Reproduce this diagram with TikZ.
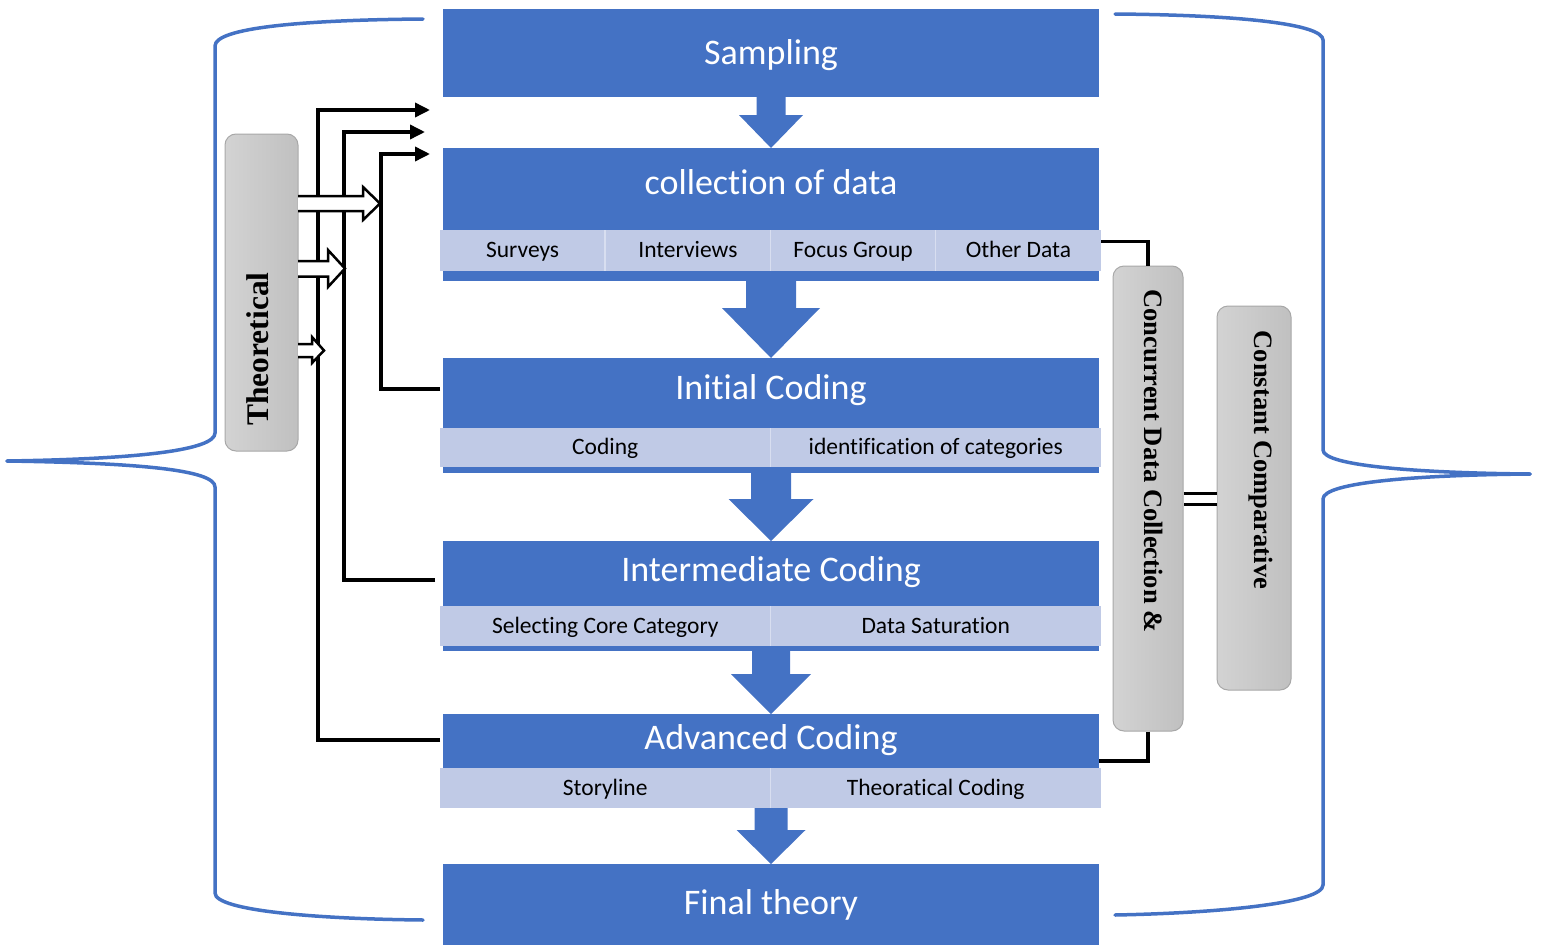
\documentclass[tikz,border=0pt]{standalone}
\usepackage{fontspec}
\setmainfont{Carlito}[Ligatures=NoCommon]
\newfontfamily\sidefont{Liberation Serif}
\usetikzlibrary{calc,arrows.meta}

\definecolor{flowblue}{HTML}{4472C4}
\definecolor{rowblue}{HTML}{C0CAE6}
\definecolor{rowline}{HTML}{D8DEF0}
\definecolor{panelL}{HTML}{D3D3D3}
\definecolor{panelR}{HTML}{C0C0C0}
\definecolor{panelEdge}{HTML}{A8A8A8}

\tikzset{
  stagebg/.style={fill=flowblue, draw=none, minimum width=656pt, anchor=north,
    inner sep=0pt, outer sep=0pt},
  title/.style={text=white, minimum width=656pt, inner sep=0pt, outer sep=0pt,
    font=\fontsize{36}{40}\selectfont, text height=22pt, text depth=0pt},
  cell/.style={fill=rowblue, draw=none, inner sep=0pt, outer sep=0pt,
    font=\fontsize{23.5}{26}\selectfont, text height=14.6pt, text depth=0pt},
  divider/.style={draw=rowline, line width=1.5pt},
  panel/.style={rounded corners=11pt, draw=panelEdge, line width=1pt,
    left color=panelL, right color=panelR, inner sep=0pt},
  paneltext/.style={font=\sidefont\bfseries\fontsize{26.5}{30}\selectfont, inner sep=0pt},
  feed/.style={draw=black, line width=3.5pt, -{Triangle[length=15pt,width=14pt]}},
  link/.style={draw=black, line width=3.5pt},
  hollow/.style={fill=white, draw=black, line width=2.5pt, line join=miter},
  brace/.style={draw=flowblue, line width=3.5pt, line cap=round},
}

% solid block arrow from the bottom of one stage to the top of the next
\newcommand\blockdown[5]{%
  \fill[flowblue] let \p1=(#1.south), \p2=(#2.north) in
    (\x1-#3pt,\y1) -- (\x1+#3pt,\y1) -- (\x1+#3pt,\y2+#5pt) -- (\x1+#4pt,\y2+#5pt)
    -- (\x1,\y2) -- (\x1-#4pt,\y2+#5pt) -- (\x1-#3pt,\y2+#5pt) -- cycle;}

\begin{document}
\begin{tikzpicture}[x=1pt,y=-1pt]
\useasboundingbox (0,0) rectangle (1543,945);

% ---- outer braces ----
\draw[brace] (423,19) .. controls (300,20) and (215,28) .. (215,46) -- (215,433)
  .. controls (215,450) and (140,459) .. (7,461);
\draw[brace] (7,461) .. controls (140,463) and (215,470) .. (215,487) -- (215,893)
  .. controls (215,911) and (320,919) .. (423,920);
\draw[brace] (1115,14) .. controls (1240,15) and (1323,24) .. (1323,40) -- (1323,450)
  .. controls (1323,466) and (1420,473) .. (1530,474);
\draw[brace] (1530,474) .. controls (1420,475) and (1323,482) .. (1323,499) -- (1323,885)
  .. controls (1323,903) and (1220,913) .. (1115,915);

% ---- stage backgrounds ----
\node[stagebg, minimum height=88pt]  (sampbox)  at (771,9)   {};
\node[stagebg, minimum height=133pt] (collbox)  at (771,148) {};
\node[stagebg, minimum height=115pt] (initbox)  at (771,358) {};
\node[stagebg, minimum height=110pt] (interbox) at (771,541) {};
\node[stagebg, minimum height=94pt]  (advbox)   at (771,714) {};
\node[stagebg, minimum height=81pt]  (finalbox) at (771,864) {};

% ---- stage titles ----
\node[title] (samp)  at (771,53)  {Sampling};
\node[title] (coll)  at (771,183) {collection of data};
\node[title] (init)  at (771,388) {Initial Coding};
\node[title] (inter) at (771,570) {Intermediate Coding};
\node[title] (adv)   at (771,738) {Advanced Coding};
\node[title] (final) at (771,903) {Final theory};

% ---- sub rows ----
\node[cell, minimum width=165.25pt, minimum height=41pt] (surveys)    at (522.6,250.5)  {Surveys};
\node[cell, minimum width=165.25pt, minimum height=41pt] (interviews) at (687.9,250.5)  {Interviews};
\node[cell, minimum width=165.25pt, minimum height=41pt] (focus)      at (853.1,250.5)  {Focus Group};
\node[cell, minimum width=165.25pt, minimum height=41pt] (other)      at (1018.4,250.5) {Other Data};
\draw[divider] (surveys.north east) -- (surveys.south east);
\draw[divider] (interviews.north east) -- (interviews.south east);
\draw[divider] (focus.north east) -- (focus.south east);

\node[cell, minimum width=330.5pt, minimum height=39pt] (coding)   at (605.25,447.5) {Coding};
\node[cell, minimum width=330.5pt, minimum height=39pt] (identcat) at (935.75,447.5) {identification of categories};
\draw[divider] (coding.north east) -- (coding.south east);

\node[cell, minimum width=330.5pt, minimum height=40pt] (corecat) at (605.25,626) {Selecting Core Category};
\node[cell, minimum width=330.5pt, minimum height=40pt] (satur)   at (935.75,626) {Data Saturation};
\draw[divider] (corecat.north east) -- (corecat.south east);

\node[cell, minimum width=330.5pt, minimum height=40pt] (story)   at (605.25,788) {Storyline};
\node[cell, minimum width=330.5pt, minimum height=40pt] (theocod) at (935.75,788) {Theoratical Coding};
\draw[divider] (story.north east) -- (story.south east);

% ---- flow arrows ----
\blockdown{sampbox}{collbox}{14.5}{32}{33}
\blockdown{collbox}{initbox}{25}{49}{50}
\blockdown{initbox}{interbox}{20}{42.5}{42}
\blockdown{interbox}{advbox}{19}{40}{40}
\blockdown{advbox}{finalbox}{16.5}{34.5}{34}

% ---- side panels ----
\node[panel, minimum width=73pt, minimum height=317pt] (theo) at (261.5,292.5) {};
\node[paneltext, font=\sidefont\bfseries\fontsize{31.5}{34}\selectfont, rotate=90]
  (theotext) at (258,349) {Theoretical};

\node[panel, minimum width=70pt, minimum height=465pt] (conc) at (1148,498.5) {};
\node[paneltext, rotate=-90] (conctext) at (1154,461) {Concurrent Data Collection \&};

\node[panel, minimum width=74pt, minimum height=384pt] (cons) at (1254,498) {};
\node[paneltext, rotate=-90] (constext) at (1261,460) {Constant Comparative};

% ---- feedback connectors on the left ----
\coordinate (tipA) at (430,110);
\coordinate (tipB) at (425,132);
\coordinate (tipC) at (430,154);
\draw[feed] ([xshift=-3pt,yshift=-2pt]adv.west) -| (318,110) -- (tipA);
\draw[feed] ([xshift=-8pt,yshift=-10pt]inter.west) -| (344,132) -- (tipB);
\draw[feed] ([xshift=-3pt,yshift=-1pt]init.west) -| (381,154) -- (tipC);

% ---- hollow arrows out of the theory panel ----
\draw[hollow] (298,196) -- (363,196) -- (363,187) -- (380,203.5) -- (363,220) -- (363,211) -- (298,211);
\draw[hollow] (298,261) -- (328,261) -- (328,250) -- (345,268.5) -- (328,287) -- (328,276.5) -- (298,276.5);
\draw[hollow] (298,344) -- (312,344) -- (312,337) -- (324,350.5) -- (312,363) -- (312,357) -- (298,357);

% ---- links on the right ----
\draw[link] ([yshift=9pt]other.east) -| (conc.north);
\draw[link] (conc.south) |- (advbox.east);
\draw[line width=3pt, double distance=8pt] (conc.east) -- (conc.east -| cons.west);
\end{tikzpicture}
\end{document}
